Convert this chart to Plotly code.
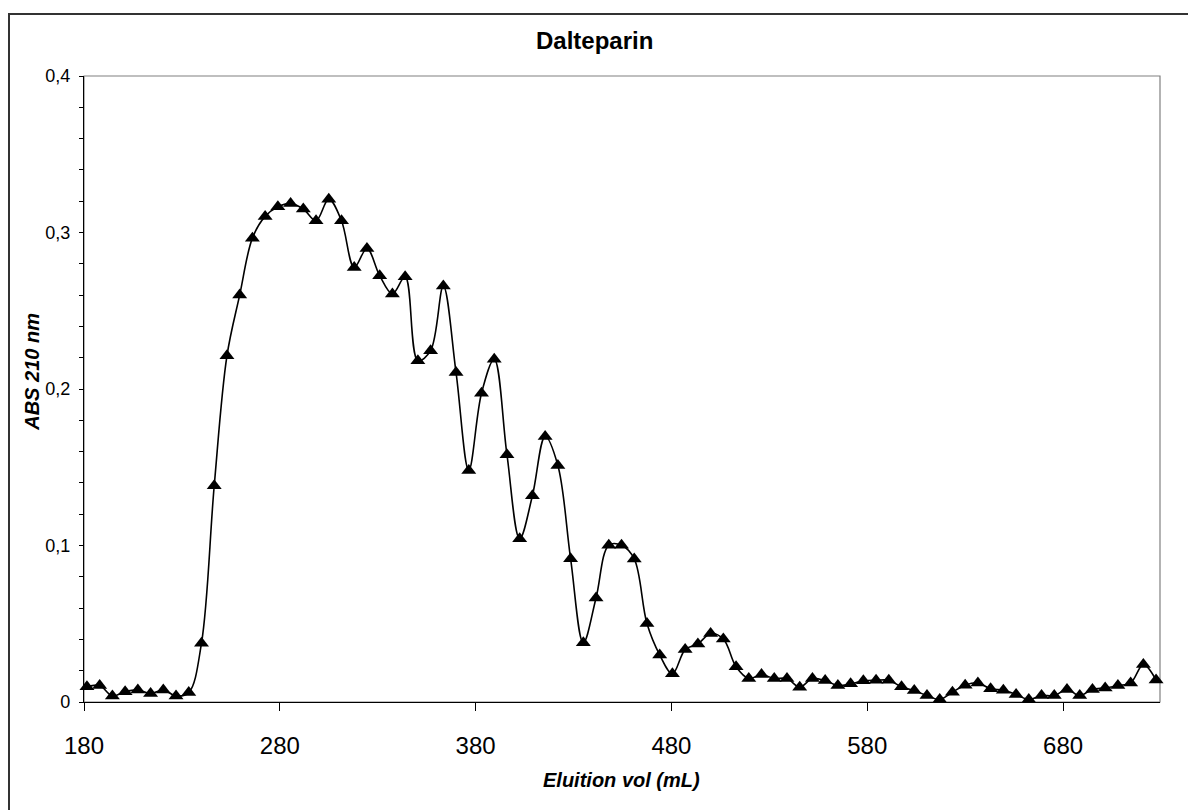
import plotly.graph_objects as go

# ---- data ----
elution_ml = [181.5, 188, 194.5, 201, 207.5, 214, 220.5, 227, 233.5, 240,
              246.5, 253, 259.5, 266, 272.5, 279, 285.5, 292, 298.5, 305,
              311.5, 318, 324.5, 331, 337.5, 344, 350.5, 357, 363.5, 370,
              376.5, 383, 389.5, 396, 402.5, 409, 415.5, 422, 428.5, 435,
              441.5, 448, 454.5, 461, 467.5, 474, 480.5, 487, 493.5, 500,
              506.5, 513, 519.5, 526, 532.5, 539, 545.5, 552, 558.5, 565,
              571.5, 578, 584.5, 591, 597.5, 604, 610.5, 617, 623.5, 630,
              636.5, 643, 649.5, 656, 662.5, 669, 675.5, 682, 688.5, 695,
              701.5, 708, 714.5, 721, 727.5]

abs_210 = [0.0098, 0.0105, 0.0038, 0.0066, 0.0077, 0.0055, 0.0077, 0.0038, 0.0060, 0.0376,
           0.1382, 0.2212, 0.2600, 0.2964, 0.3103, 0.3164, 0.3186, 0.3150, 0.3075, 0.3213,
           0.3075, 0.2777, 0.2898, 0.2724, 0.2607, 0.2717, 0.2180, 0.2245, 0.2658, 0.2105,
           0.1480, 0.1973, 0.2190, 0.1580, 0.1043, 0.1318, 0.1696, 0.1511, 0.0916, 0.0378,
           0.0665, 0.1001, 0.1001, 0.0914, 0.0501, 0.0301, 0.0180, 0.0335, 0.0371, 0.0437,
           0.0403, 0.0225, 0.0150, 0.0175, 0.0150, 0.0150, 0.0095, 0.0150, 0.0137, 0.0105,
           0.0116, 0.0136, 0.0139, 0.0139, 0.0097, 0.0073, 0.0041, 0.0016, 0.0063, 0.0107,
           0.0122, 0.0084, 0.0075, 0.0048, 0.0016, 0.0041, 0.0041, 0.0080, 0.0041, 0.0080,
           0.0090, 0.0105, 0.0122, 0.0239, 0.0140]

x_ticks = [180, 280, 380, 480, 580, 680]
y_ticks = [0, 0.1, 0.2, 0.3, 0.4]
y_tick_text = ["0", "0,1", "0,2", "0,3", "0,4"]

title_text = "Dalteparin"
x_title = "Eluition vol (mL)"
y_title = "ABS 210 nm"

# ---- layout geometry (pixels) ----
W, H = 1188, 810
L, R, T, B = 84, 1160, 76, 702.5
pw, ph = R - L, B - T


def px(xp):
    return (xp - L) / pw


def py(yp):
    return (B - yp) / ph


FONT = "Liberation Sans, Arial, sans-serif"

fig = go.Figure()
fig.add_trace(go.Scatter(
    x=elution_ml, y=abs_210,
    mode="lines+markers",
    line=dict(color="black", width=1.6, shape="spline", smoothing=1.0),
    marker=dict(symbol="triangle-up", size=13, color="black",
                line=dict(color="black", width=0)),
    showlegend=False, cliponaxis=False,
))

fig.update_layout(
    width=W, height=H,
    margin=dict(l=L, r=W - R, t=T, b=H - B, pad=0),
    paper_bgcolor="white", plot_bgcolor="white",
    separators=",.",
    font=dict(family=FONT, color="black"),
    showlegend=False,
)

fig.update_xaxes(
    range=[180, 729.5], tickvals=x_ticks,
    ticks="outside", ticklen=8, tickwidth=1, tickcolor="black",
    showline=True, linecolor="black", linewidth=1.2,
    showgrid=False, zeroline=False,
    tickfont=dict(size=24, family=FONT, color="black"),
    ticklabelstandoff=14,
)
fig.update_yaxes(
    range=[0, 0.4], tickvals=y_ticks, ticktext=y_tick_text,
    ticks="outside", ticklen=4, tickwidth=1, tickcolor="black",
    minor=dict(dtick=0.02, ticks="outside", ticklen=4, tickcolor="black", tickwidth=1, showgrid=False),
    showline=True, linecolor="black", linewidth=1.2,
    showgrid=False, zeroline=False,
    tickfont=dict(size=18, family=FONT, color="black"),
    ticklabelstandoff=5,
)

# plot-area frame (grey, top & right visible)
fig.add_shape(type="rect", xref="paper", yref="paper",
              x0=0, x1=1, y0=0, y1=1,
              line=dict(color="#808080", width=1.2), layer="below")
# outer chart border
fig.add_shape(type="rect", xref="paper", yref="paper",
              x0=px(9), x1=px(1200), y0=py(820), y1=py(14),
              line=dict(color="#333333", width=2))

fig.add_annotation(text="<b>" + title_text + "</b>", xref="paper", yref="paper",
                   x=px(594), y=py(40), showarrow=False,
                   font=dict(size=24, family=FONT, color="black"),
                   xanchor="center", yanchor="middle")
fig.add_annotation(text="<b><i>" + x_title + "</i></b>", xref="paper", yref="paper",
                   x=px(621), y=py(781), showarrow=False,
                   font=dict(size=20, family=FONT, color="black"),
                   xanchor="center", yanchor="middle")
fig.add_annotation(text="<b><i>" + y_title + "</i></b>", xref="paper", yref="paper",
                   x=px(32), y=py(372), showarrow=False, textangle=-90,
                   font=dict(size=20, family=FONT, color="black"),
                   xanchor="center", yanchor="middle")

fig.write_html("out.html")
